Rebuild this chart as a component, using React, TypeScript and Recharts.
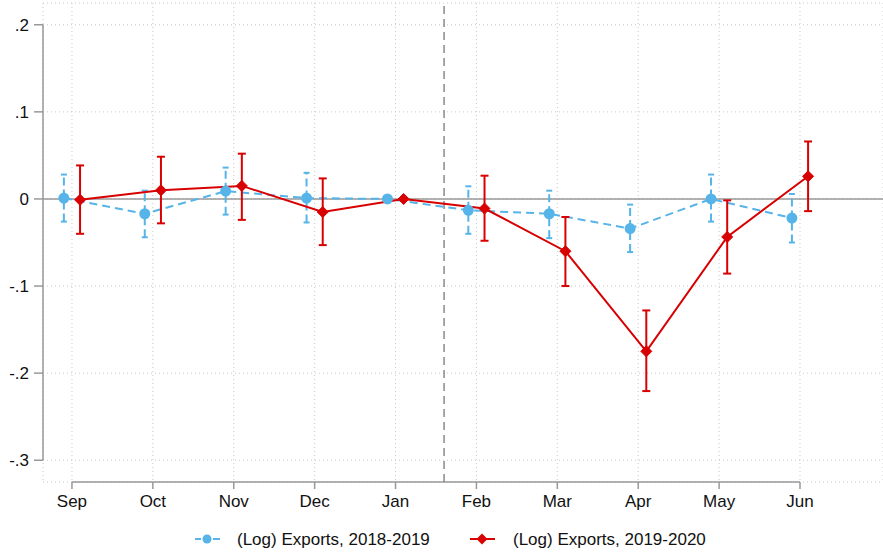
import { LineChart, Line, XAxis, YAxis, CartesianGrid, ReferenceLine, ErrorBar } from 'recharts';

const months = ['Sep', 'Oct', 'Nov', 'Dec', 'Jan', 'Feb', 'Mar', 'Apr', 'May', 'Jun'];
const monthTicks = [0, 1, 2, 3, 4, 5, 6, 7, 8, 9];
const yTicks = [-0.3, -0.2, -0.1, 0, 0.1, 0.2];

// (Log) Exports, 2018-2019: point estimate and 95% CI bounds
const exp1819 = [0.001, -0.017, 0.009, 0.001, 0, -0.013, -0.017, -0.034, 0, -0.022];
const exp1819Lo = [-0.026, -0.044, -0.018, -0.027, null, -0.04, -0.045, -0.061, -0.026, -0.05];
const exp1819Hi = [0.028, 0.0095, 0.036, 0.03, null, 0.0145, 0.0095, -0.0065, 0.028, 0.0057];

// (Log) Exports, 2019-2020
const exp1920 = [-0.001, 0.01, 0.015, -0.015, 0, -0.011, -0.06, -0.175, -0.0436, 0.026];
const exp1920Lo = [-0.04, -0.028, -0.024, -0.053, null, -0.048, -0.1, -0.2206, -0.0857, -0.014];
const exp1920Hi = [0.0385, 0.0485, 0.052, 0.0236, null, 0.0267, -0.0207, -0.128, -0.0016, 0.066];

const BLUE = '#56b4e9';
const RED = '#d80000';
const GRAY = '#999';
const FONT = '"Liberation Sans", Arial, sans-serif';

const X_MIN = -0.358;
const X_MAX = 10.026;
const Y_MIN = -0.325;
const Y_MAX = 0.225;

const build = (vals: number[], lo: (number | null)[], hi: (number | null)[], shift: number) =>
  vals.map((v, i) => ({
    x: i + shift,
    y: v,
    err: lo[i] == null || hi[i] == null ? null : [v - (lo[i] as number), (hi[i] as number) - v],
  }));

const data1819 = build(exp1819, exp1819Lo, exp1819Hi, -0.1);
const data1920 = build(exp1920, exp1920Lo, exp1920Hi, 0.1);

const fmtY = (v: number) => {
  if (v === 0) return '0';
  const s = v.toFixed(1);
  return s.replace('0.', '.');
};

const Diamond = (props: any) => {
  const { cx, cy, index } = props;
  if (cx == null || cy == null) return <g key={`d-${index}`} />;
  const r = 5.5;
  return (
    <polygon
      key={`d-${index}`}
      points={`${cx},${cy - r} ${cx + r},${cy} ${cx},${cy + r} ${cx - r},${cy}`}
      fill={RED}
      stroke={RED}
    />
  );
};

export default function App() {
  return (
    <div style={{ position: 'absolute', left: 0, top: 0, width: 883, height: 553, background: '#fff', fontFamily: FONT }}>
      <LineChart width={883} height={553} margin={{ top: 3, right: 0, bottom: 0, left: 0 }}>
        <CartesianGrid stroke="#c8c8c8" strokeDasharray="1 3" />
        <XAxis
          type="number"
          dataKey="x"
          domain={[X_MIN, X_MAX]}
          ticks={monthTicks}
          interval={0}
          allowDataOverflow
          tickFormatter={(i) => months[i]}
          height={71}
          axisLine={false}
          tickLine={{ stroke: GRAY, strokeWidth: 1.5 }}
          tickSize={7}
          tickMargin={6}
          tick={{ fill: '#111', fontSize: 17, fontFamily: FONT }}
        />
        <YAxis
          type="number"
          domain={[Y_MIN, Y_MAX]}
          ticks={yTicks}
          interval={0}
          allowDataOverflow
          tickFormatter={fmtY}
          width={43}
          axisLine={false}
          tickLine={{ stroke: GRAY, strokeWidth: 1.5 }}
          tickSize={9}
          tickMargin={5}
          tick={{ fill: '#111', fontSize: 17, fontFamily: FONT }}
        />
        <ReferenceLine
          segment={[{ x: X_MIN, y: 0.2 }, { x: X_MIN, y: -0.3 }]}
          stroke={GRAY}
          strokeWidth={1.5}
          ifOverflow="visible"
        />
        <ReferenceLine
          segment={[{ x: 0, y: Y_MIN }, { x: 9, y: Y_MIN }]}
          stroke={GRAY}
          strokeWidth={1.5}
          ifOverflow="visible"
        />
        <ReferenceLine y={0} stroke={GRAY} strokeWidth={1.5} />
        <ReferenceLine x={4.6} stroke="#8a8a8a" strokeWidth={1.5} strokeDasharray="8 5" />
        <Line
          data={data1819}
          dataKey="y"
          stroke={BLUE}
          strokeWidth={2}
          strokeDasharray="8 5"
          dot={{ r: 4.5, fill: BLUE, stroke: BLUE, strokeDasharray: '' }}
          activeDot={false}
          isAnimationActive={false}
        >
          <ErrorBar dataKey="err" direction="y" width={3} stroke={BLUE} strokeWidth={2} strokeDasharray="8 4" />
        </Line>
        <Line
          data={data1920}
          dataKey="y"
          stroke={RED}
          strokeWidth={2}
          dot={Diamond}
          activeDot={false}
          isAnimationActive={false}
        >
          <ErrorBar dataKey="err" direction="y" width={4} stroke={RED} strokeWidth={2} />
        </Line>
      </LineChart>
      <svg width={883} height={28} style={{ position: 'absolute', left: 0, top: 525 }}>
        <line x1={195} y1={14} x2={201} y2={14} stroke={BLUE} strokeWidth={2} />
        <line x1={213} y1={14} x2={220} y2={14} stroke={BLUE} strokeWidth={2} />
        <circle cx={207} cy={14} r={4.5} fill={BLUE} />
        <text x={237} y={19.5} fontSize={17} fill="#111" fontFamily={FONT}>
          (Log) Exports, 2018-2019
        </text>
        <line x1={470} y1={14} x2={495} y2={14} stroke={RED} strokeWidth={2} />
        <polygon points="482,8.5 487.5,14 482,19.5 476.5,14" fill={RED} />
        <text x={513} y={19.5} fontSize={17} fill="#111" fontFamily={FONT}>
          (Log) Exports, 2019-2020
        </text>
      </svg>
    </div>
  );
}
